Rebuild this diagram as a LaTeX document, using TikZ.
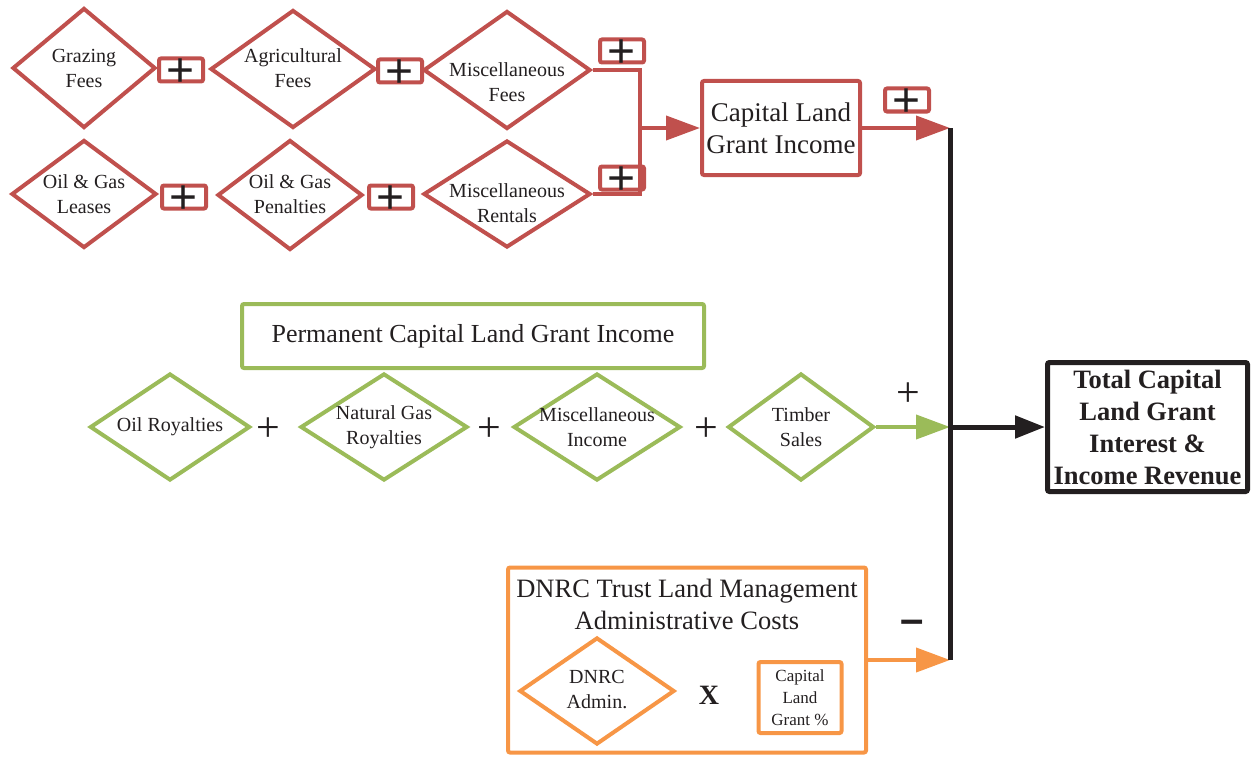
\documentclass[tikz,border=0pt]{standalone}
\usepackage{fontspec}
\setmainfont{LiberationSerif}[Extension=.ttf, UprightFont=*-Regular, BoldFont=*-Bold, ItalicFont=*-Italic, BoldItalicFont=*-BoldItalic]
\newfontfamily\plusfont{LiberationSans}[Extension=.ttf, UprightFont=*-Regular, BoldFont=*-Bold]
\usetikzlibrary{shapes.geometric,arrows.meta}
\definecolor{cred}{HTML}{C0504D}
\definecolor{cgreen}{HTML}{9BBB59}
\definecolor{corange}{HTML}{F79646}
\definecolor{ink}{HTML}{231F20}
\newcommand{\dtext}[2][0pt]{\makebox[0pt]{\raisebox{\dimexpr-0.25em-#1\relax}[0pt][0pt]{\begin{tabular}{@{}c@{}}#2\end{tabular}}}}
\tikzset{
  dia/.style={diamond, draw=#1, line width=4pt, inner sep=0pt, text=ink,
    font=\fontsize{20}{25}\selectfont},
  box/.style={rectangle, draw=#1, line width=4pt, rounded corners=2pt, inner sep=0pt, align=center, text=ink},
  plusbox/.style={box=cred, minimum width=44pt, minimum height=23pt,
    font=\plusfont\fontsize{48}{48}\selectfont},
  bigplus/.style={text=ink, inner sep=0pt, font=\fontsize{42}{42}\selectfont},
  wire/.style={draw=#1, line width=4pt},
  arr/.style={draw=#1, line width=4pt, -{Triangle[length=34pt,width=24pt]}},
}
\newcommand{\pluss}{\smash{\raisebox{-0.34em}{+}}}
\begin{document}
\begin{tikzpicture}[x=1pt,y=-1pt]
\useasboundingbox (0,0) rectangle (1254,760);
% red row 1
\node[dia=cred, minimum width=143pt, minimum height=120pt] (gf) at (84,68) {\dtext[2pt]{Grazing\\Fees}};
\node[plusbox] (p1) at (181,70) {\pluss};
\node[dia=cred, minimum width=165pt, minimum height=118pt] (af) at (293,69) {\dtext[1pt]{Agricultural\\Fees}};
\node[plusbox] (p2) at (400,71) {\pluss};
\node[dia=cred, minimum width=167pt, minimum height=118pt] (mf) at (507,70) {\dtext[14pt]{Miscellaneous\\Fees}};
\node[plusbox] (p3) at (622,51) {\pluss};
% red row 2
\node[dia=cred, minimum width=145pt, minimum height=108pt] (ogl) at (84,194) {\dtext[2pt]{Oil \& Gas\\Leases}};
\node[plusbox] (p4) at (184,197) {\pluss};
\node[dia=cred, minimum width=145pt, minimum height=110pt] (ogp) at (290,195) {\dtext[1pt]{Oil \& Gas\\Penalties}};
\node[plusbox] (p5) at (391,197) {\pluss};
\node[dia=cred, minimum width=167pt, minimum height=107pt] (mr) at (507,194) {\dtext[11pt]{Miscellaneous\\Rentals}};
\node[plusbox] (p6) at (622,178) {\pluss};
\coordinate (rj) at (640,128);
\draw[wire=cred] (mf.east) -| (rj);
\draw[wire=cred] (mr.east) -| (rj);
% capital land grant income
\node[box=cred, minimum width=158pt, minimum height=94pt, font=\fontsize{27}{32}\selectfont] (cap) at (781,128) {Capital Land\\Grant Income};
\draw[arr=cred] (rj) -- (cap.west);
\node[plusbox] (p7) at (907,100) {\pluss};
% bus
\coordinate (busTop) at (950,128);
\coordinate (busMid) at (950,427);
\coordinate (busBot) at (950,660);
\draw[arr=cred] (cap.east) -- (busTop);
% green
\node[box=cgreen, minimum width=462pt, minimum height=64pt, font=\fontsize{26}{30}\selectfont] (perm) at (473,336) {Permanent Capital Land Grant Income};
\node[dia=cgreen, minimum width=160pt, minimum height=107pt] (oro) at (170,427) {\dtext{Oil Royalties}};
\node[bigplus] (g1) at (268,430) {+};
\node[dia=cgreen, minimum width=167pt, minimum height=107pt] (ngr) at (384,427) {\dtext{Natural Gas\\Royalties}};
\node[bigplus] (g2) at (489,430) {+};
\node[dia=cgreen, minimum width=167pt, minimum height=107pt] (mi) at (597,427) {\dtext[2pt]{Miscellaneous\\Income}};
\node[bigplus] (g3) at (706,430) {+};
\node[dia=cgreen, minimum width=146pt, minimum height=107pt] (ts) at (801,427) {\dtext[2pt]{Timber\\Sales}};
\draw[arr=cgreen] (ts.east) -- (busMid);
\node[bigplus] (g4) at (908,395) {+};
% orange
\node[box=corange, minimum width=358pt, minimum height=185pt] (dbox) at (687,660) {};
\node[text=ink, align=center, inner sep=0pt, font=\fontsize{26.5}{32}\selectfont] (dtitle) at (687,604) {DNRC Trust Land Management\\Administrative Costs};
\node[dia=corange, minimum width=155pt, minimum height=107pt] (adm) at (597,691) {\dtext{DNRC\\Admin.}};
\node[text=ink, inner sep=0pt, font=\bfseries\fontsize{28}{28}\selectfont] (xx) at (709,695) {X};
\node[box=corange, minimum width=83pt, minimum height=71pt, font=\fontsize{17}{22}\selectfont] (clg) at (800,697.5) {Capital\\Land\\Grant \%};
\draw[arr=corange] (dbox.east) -- (busBot);
\node[text=ink, inner sep=0pt, font=\plusfont\bfseries\fontsize{42}{42}\selectfont] (minus) at (912,627) {–};
% black bus and total
\draw[draw=ink, line width=5pt] (busTop) -- (busBot);
\node[box=ink, line width=5pt, minimum width=200pt, minimum height=129pt, font=\bfseries\fontsize{26.5}{32}\selectfont] (tot) at (1147.5,427) {Total Capital\\Land Grant\\Interest \&\\Income Revenue};
\draw[draw=ink, line width=5pt, -{Triangle[length=30pt,width=22pt]}] (busMid) -- (tot.west);
\end{tikzpicture}
\end{document}
